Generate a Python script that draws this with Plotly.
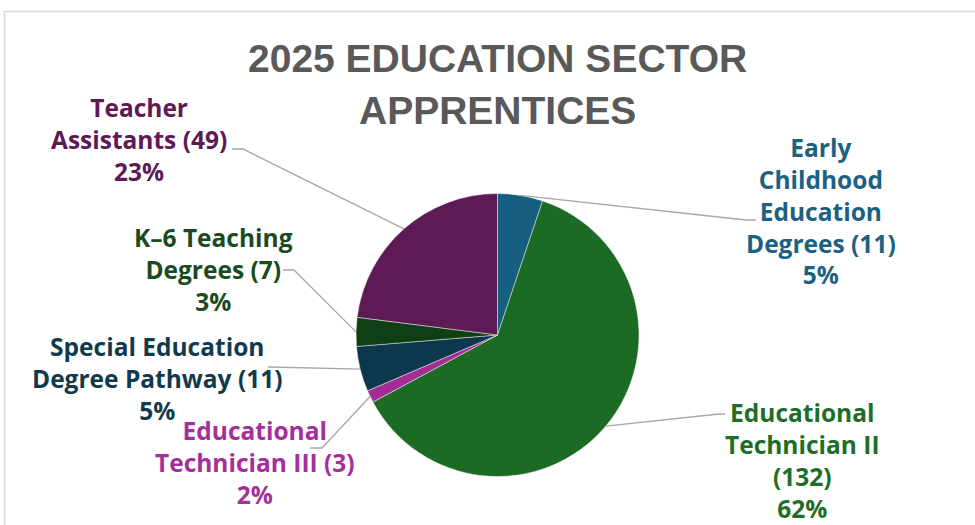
import math
import plotly.graph_objects as go

# ---- data ----
categories = [
    "Early Childhood Education Degrees",
    "Educational Technician II",
    "Educational Technician III",
    "Special Education Degree Pathway",
    "K–6 Teaching Degrees",
    "Teacher Assistants",
]
label_text = [
    "Early<br>Childhood<br>Education<br>Degrees (11)",
    "Educational<br>Technician II<br>(132)",
    "Educational<br>Technician III (3)",
    "Special Education<br>Degree Pathway (11)",
    "K–6 Teaching<br>Degrees (7)",
    "Teacher<br>Assistants (49)",
]
values = [11, 132, 3, 11, 7, 49]
percent_labels = ["5%", "62%", "2%", "5%", "3%", "23%"]
slice_colors = ["#165f80", "#1c6b25", "#a32d95", "#0d374d", "#0f3f14", "#5e1a55"]
text_colors = ["#1b6182", "#1e6e27", "#a3309a", "#123a4d", "#1b4a1f", "#5e1a55"]
title_lines = ["2025 EDUCATION SECTOR", "APPRENTICES"]

# ---- layout constants (pixels) ----
W, H = 975, 525
CX, CY, R = 497.5, 335, 141.5
# label block centres
label_pos = [(821, 211), (802, 460), (255, 462), (157, 378), (213, 269), (139, 140)]
# leader line start and elbow
leader = [
    ((756, 220), (746, 220)),
    ((725, 414), (719, 414)),
    ((310, 448), (322, 448)),
    ((268, 367), (270, 367)),
    ((283, 270), (294, 270)),
    ((232, 149), (243, 149)),
]

def px(x):
    return x / W

def py(y):
    return 1 - y / H

fig = go.Figure()
fig.add_trace(go.Pie(
    labels=categories,
    values=values,
    sort=False,
    direction="clockwise",
    rotation=0,
    marker=dict(colors=slice_colors, line=dict(color="rgba(255,255,255,0.55)", width=0.8)),
    textinfo="none",
    hoverinfo="label+value+percent",
    showlegend=False,
    domain=dict(x=[px(CX - R), px(CX + R)], y=[py(CY + R), py(CY - R)]),
))

total = sum(values)
shapes = []
annotations = []
cum = 0
for i, v in enumerate(values):
    mid = (cum + v / 2) / total * 2 * math.pi
    cum += v
    ex = CX + R * math.sin(mid)
    ey = CY - R * math.cos(mid)
    (sx, sy), (bx, by) = leader[i]
    path = f"M {px(sx)} {py(sy)} L {px(bx)} {py(by)} L {px(ex)} {py(ey)}"
    shapes.append(dict(type="path", xref="paper", yref="paper", path=path,
                       line=dict(color="#a6a6a6", width=1.3)))
    lx, ly = label_pos[i]
    annotations.append(dict(
        x=px(lx), y=py(ly), xref="paper", yref="paper",
        xanchor="center", yanchor="middle", align="center", showarrow=False,
        text=f"<b>{label_text[i]}<br>{percent_labels[i]}</b>",
        font=dict(family="Open Sans", size=24.5, color=text_colors[i]),
    ))

for j, (t, yy) in enumerate(zip(title_lines, [58, 111])):
    annotations.append(dict(
        x=px(497.5), y=py(yy), xref="paper", yref="paper",
        xanchor="center", yanchor="middle", showarrow=False,
        text=f"<b>{t}</b>",
        font=dict(family="Liberation Sans", size=39, color="#595959"),
    ))

# chart frame
shapes.append(dict(type="rect", xref="paper", yref="paper",
                   x0=px(4.5), y0=py(600), x1=px(1100), y1=py(11.5),
                   line=dict(color="#d9d9d9", width=1.5), layer="below"))

fig.update_layout(
    width=W, height=H,
    margin=dict(l=0, r=0, t=0, b=0),
    paper_bgcolor="white",
    plot_bgcolor="white",
    shapes=shapes,
    annotations=annotations,
)

fig.write_html(
    "out.html",
    config={"displayModeBar": False},
    post_script="document.body.style.margin='0';document.body.style.overflow='hidden';",
)
